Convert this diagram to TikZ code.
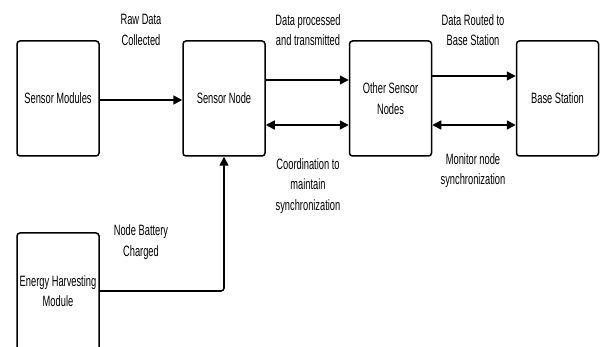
\documentclass[tikz,border=0pt]{standalone}
\usepackage{fontspec}
\setmainfont[FakeStretch=0.62]{Liberation Sans}
\usetikzlibrary{arrows.meta}
\begin{document}
\begin{tikzpicture}[x=1pt,y=-1pt,
  box/.style={draw,line width=1.5pt,rounded corners=3pt,minimum width=82pt,minimum height=115pt,inner sep=0pt,align=center,font=\fontsize{15}{20.5}\selectfont},
  lbl/.style={align=center,font=\fontsize{15}{20.5}\selectfont,inner sep=0pt},
  conn/.style={line width=1.6pt,-{Triangle[length=9pt,width=9pt]}},
  bconn/.style={line width=1.6pt,{Triangle[length=9pt,width=9pt]}-{Triangle[length=9pt,width=9pt]}}]
\useasboundingbox (0,0) rectangle (602,347);
\node[box] (sm) at (58,98.5) {Sensor Modules};
\node[box] (sn) at (224,98.5) {Sensor Node};
\node[box] (os) at (390.5,98.5) {Other Sensor\\Nodes};
\node[box] (bs) at (557.5,98.5) {Base Station};
\node[box,minimum height=120pt] (eh) at (58,293) {};
\node[lbl] (ehl) at (58,291) {Energy Harvesting\\Module};
\coordinate (ehout) at (99,291);
\coordinate (bend) at (224,291);
\draw[conn] (sm.east |- 0,100) -- (sn.west |- 0,100);
\draw[conn] (sn.east |- 0,80) -- (os.west |- 0,80);
\draw[bconn] (sn.east |- 0,125) -- (os.west |- 0,125);
\draw[conn] (os.east |- 0,76) -- (bs.west |- 0,76);
\draw[bconn] (os.east |- 0,125) -- (bs.west |- 0,125);
\draw[conn,rounded corners=3pt] (ehout) -- (bend) -- (sn.south);
\node[lbl] (l1) at (141,30) {Raw Data\\Collected};
\node[lbl] (l2) at (308,30) {Data processed\\and transmitted};
\node[lbl] (l3) at (473,30) {Data Routed to\\Base Station};
\node[lbl] (l4) at (308,186) {Coordination to\\maintain\\synchronization};
\node[lbl] (l5) at (473,170.5) {Monitor node\\synchronization};
\node[lbl] (l6) at (141,242) {Node Battery\\Charged};
\end{tikzpicture}
\end{document}
